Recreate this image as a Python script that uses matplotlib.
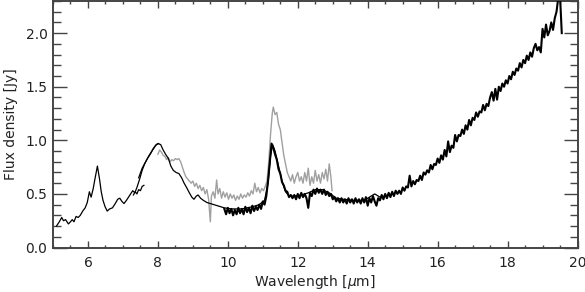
import numpy as np
import matplotlib
matplotlib.use("Agg")
import matplotlib.pyplot as plt
from matplotlib.ticker import MultipleLocator, FormatStrFormatter

# ---- data ----
# thin black spectrum (ISO-like)
thin_wl = [5.10, 5.18, 5.25, 5.30, 5.36, 5.44, 5.50, 5.55, 5.60, 5.66, 5.72, 5.78, 5.85, 5.92, 5.98,
           6.04, 6.09, 6.15, 6.20, 6.27, 6.33, 6.38, 6.43, 6.49, 6.55, 6.62, 6.70, 6.78, 6.85, 6.91,
           6.97, 7.03, 7.10, 7.16, 7.22, 7.28, 7.34, 7.40, 7.47, 7.55, 7.62, 7.70, 7.78, 7.86, 7.93,
           8.00, 8.08, 8.15, 8.22, 8.30, 8.37, 8.44, 8.52, 8.60, 8.68, 8.75, 8.82, 8.90, 8.97, 9.03,
           9.10, 9.15, 9.22, 9.30, 9.40, 9.50, 9.60, 9.70, 9.80, 9.90, 10.1, 10.4, 10.7, 10.9, 11.05,
           11.15, 11.22, 11.28, 11.35, 11.45, 11.55, 11.65, 11.75, 11.9, 12.1, 12.3, 12.5, 12.7, 12.9,
           13.1, 13.3, 13.6, 13.9, 14.05, 14.2, 14.35, 14.5, 14.7]
thin_flux = [0.20, 0.24, 0.28, 0.25, 0.26, 0.22, 0.24, 0.26, 0.24, 0.29, 0.28, 0.30, 0.34, 0.37, 0.42,
             0.52, 0.47, 0.55, 0.64, 0.76, 0.64, 0.52, 0.44, 0.38, 0.34, 0.36, 0.37, 0.41, 0.45, 0.46,
             0.43, 0.41, 0.44, 0.47, 0.50, 0.53, 0.51, 0.56, 0.63, 0.72, 0.78, 0.83, 0.87, 0.92, 0.95,
             0.97, 0.96, 0.91, 0.87, 0.83, 0.76, 0.72, 0.70, 0.69, 0.65, 0.60, 0.56, 0.51, 0.47, 0.45,
             0.48, 0.49, 0.46, 0.44, 0.42, 0.41, 0.40, 0.39, 0.38, 0.37, 0.36, 0.36, 0.38, 0.40, 0.44,
             0.60, 0.85, 0.96, 0.90, 0.76, 0.62, 0.52, 0.48, 0.48, 0.49, 0.51, 0.54, 0.54, 0.51,
             0.46, 0.45, 0.44, 0.44, 0.47, 0.50, 0.47, 0.48, 0.50]

# short noisy black segment near 7.5 um
seg_wl = [7.30, 7.35, 7.40, 7.45, 7.50, 7.55, 7.60]
seg_flux = [0.49, 0.52, 0.50, 0.54, 0.53, 0.57, 0.58]

# second black trace on the 7.5-8 um rise
rise_wl = [7.45, 7.55, 7.65, 7.75, 7.85, 7.95, 8.02]
rise_flux = [0.65, 0.74, 0.80, 0.86, 0.91, 0.96, 0.97]

# thick noisy black spectrum, 9.90 to 19.55 um every 0.05 um
irs_start = 9.90
irs_step = 0.05
irs_flux = [
    0.36, 0.31, 0.37, 0.32, 0.36, 0.30, 0.35, 0.31, 0.37, 0.32, 0.36, 0.31, 0.38, 0.33, 0.37, 0.32, 0.39, 0.34, 0.38, 0.35,
    0.40, 0.36, 0.43, 0.40, 0.48, 0.62, 0.80, 0.97, 0.93, 0.87, 0.82, 0.73, 0.69, 0.61, 0.58, 0.53, 0.52, 0.47, 0.49, 0.46,
    0.49, 0.45, 0.50, 0.46, 0.51, 0.47, 0.50, 0.46, 0.37, 0.51, 0.48, 0.54, 0.50, 0.55, 0.51, 0.54, 0.50, 0.54, 0.49, 0.52,
    0.48, 0.50, 0.45, 0.47, 0.43, 0.46, 0.42, 0.46, 0.42, 0.45, 0.41, 0.46, 0.42, 0.45, 0.41, 0.46, 0.42, 0.45, 0.41, 0.46,
    0.42, 0.47, 0.39, 0.46, 0.42, 0.48, 0.43, 0.39, 0.46, 0.44, 0.49, 0.45, 0.50, 0.46, 0.51, 0.47, 0.52, 0.48, 0.53, 0.50,
    0.53, 0.50, 0.56, 0.53, 0.57, 0.56, 0.67, 0.57, 0.62, 0.59, 0.63, 0.62, 0.67, 0.63, 0.70, 0.68, 0.72, 0.70, 0.77, 0.73,
    0.78, 0.77, 0.83, 0.79, 0.86, 0.82, 0.91, 0.85, 0.99, 0.89, 0.95, 0.93, 1.05, 0.99, 1.05, 1.04, 1.10, 1.06, 1.14, 1.10,
    1.19, 1.14, 1.21, 1.19, 1.26, 1.22, 1.27, 1.26, 1.33, 1.28, 1.34, 1.32, 1.40, 1.45, 1.37, 1.48, 1.38, 1.50, 1.46, 1.53,
    1.50, 1.56, 1.53, 1.60, 1.57, 1.64, 1.61, 1.67, 1.65, 1.72, 1.68, 1.75, 1.72, 1.79, 1.75, 1.82, 1.78, 1.86, 1.90, 1.84,
    1.87, 1.82, 2.04, 1.96, 2.08, 1.98, 2.02, 2.10, 2.03, 2.14, 2.20, 2.33, 2.35, 2.00,
]

# gray spectrum
gray_wl = [8.00, 8.05, 8.10, 8.15, 8.20, 8.25, 8.30, 8.35, 8.40, 8.45, 8.50, 8.55, 8.60, 8.65, 8.70,
           8.75, 8.80, 8.85, 8.90, 8.95, 9.00, 9.05, 9.10, 9.15, 9.20, 9.25, 9.30, 9.35, 9.40, 9.45,
           9.50, 9.53, 9.58, 9.63, 9.68, 9.72, 9.77, 9.82, 9.87, 9.92, 9.97, 10.02, 10.07, 10.12, 10.17,
           10.22, 10.27, 10.32, 10.37, 10.42, 10.47, 10.52, 10.57, 10.62, 10.67, 10.72, 10.77, 10.82, 10.87,
           10.92, 10.97, 11.02, 11.07, 11.12, 11.17, 11.22, 11.27, 11.30, 11.35, 11.40, 11.45, 11.50, 11.55,
           11.60, 11.65, 11.70, 11.75, 11.80, 11.85, 11.90, 11.95, 12.00, 12.05, 12.10, 12.15, 12.20, 12.25,
           12.30, 12.35, 12.40, 12.45, 12.50, 12.55, 12.60, 12.65, 12.70, 12.75, 12.80, 12.85, 12.90, 12.95, 12.98]
gray_flux = [0.87, 0.91, 0.89, 0.86, 0.85, 0.82, 0.84, 0.80, 0.82, 0.81, 0.83, 0.82, 0.83, 0.80, 0.75,
             0.70, 0.66, 0.64, 0.62, 0.60, 0.62, 0.57, 0.60, 0.55, 0.58, 0.53, 0.56, 0.50, 0.54, 0.45,
             0.24, 0.48, 0.52, 0.46, 0.63, 0.50, 0.55, 0.46, 0.52, 0.47, 0.51, 0.45, 0.50, 0.46, 0.49,
             0.44, 0.48, 0.45, 0.50, 0.46, 0.49, 0.47, 0.51, 0.48, 0.53, 0.50, 0.60, 0.52, 0.56,
             0.51, 0.55, 0.53, 0.57, 0.62, 0.80, 1.05, 1.25, 1.31, 1.24, 1.26, 1.15, 1.10, 0.98,
             0.86, 0.78, 0.70, 0.66, 0.62, 0.68, 0.60, 0.66, 0.70, 0.62, 0.66, 0.60, 0.70, 0.62,
             0.74, 0.58, 0.66, 0.60, 0.72, 0.62, 0.68, 0.60, 0.70, 0.64, 0.73, 0.62, 0.78, 0.65, 0.53]

x_label = "Wavelength [$\\mu$m]"
y_label = "Flux density [Jy]"

# ---- plot ----
plt.rcParams['font.family'] = ['DejaVu Sans']

fig = plt.figure(figsize=(5.85, 2.92), dpi=100)
ax = fig.add_axes([53 / 585, 1 - 247.5 / 292, (577.5 - 53) / 585, 246.5 / 292])

axc = '#444444'
txc = '#222222'
irs_wl = irs_start + irs_step * np.arange(len(irs_flux))

ax.plot(gray_wl, gray_flux, color='#a0a0a0', lw=1.0, zorder=2)
ax.plot(thin_wl, thin_flux, color='black', lw=0.9, zorder=3)
ax.plot(seg_wl, seg_flux, color='black', lw=0.9, zorder=3)
ax.plot(rise_wl, rise_flux, color='black', lw=0.9, zorder=3)
ax.plot(irs_wl, irs_flux, color='black', lw=1.5, zorder=4)

ax.set_xlim(5, 20)
ax.set_ylim(0, 2.3)
ax.xaxis.set_major_locator(MultipleLocator(2))
ax.xaxis.set_minor_locator(MultipleLocator(0.5))
ax.yaxis.set_major_locator(MultipleLocator(0.5))
ax.yaxis.set_minor_locator(MultipleLocator(0.1))
ax.yaxis.set_major_formatter(FormatStrFormatter('%.1f'))

ax.tick_params(axis='both', which='both', direction='in', top=True, right=True,
               color=axc, labelcolor=txc, labelsize=10)
ax.tick_params(axis='x', which='major', length=5, width=1.0, pad=6)
ax.tick_params(axis='x', which='minor', length=2.5, width=1.0)
ax.tick_params(axis='y', which='major', length=10, width=1.0, pad=4)
ax.tick_params(axis='y', which='minor', length=5.5, width=1.0)
for s in ax.spines.values():
    s.set_color(axc)
    s.set_linewidth(1.4)

ax.set_xlabel(x_label, fontsize=10, color=txc, labelpad=2)
ax.set_ylabel(y_label, fontsize=10, color=txc, labelpad=5)

fig.savefig("out.png", dpi=100)
